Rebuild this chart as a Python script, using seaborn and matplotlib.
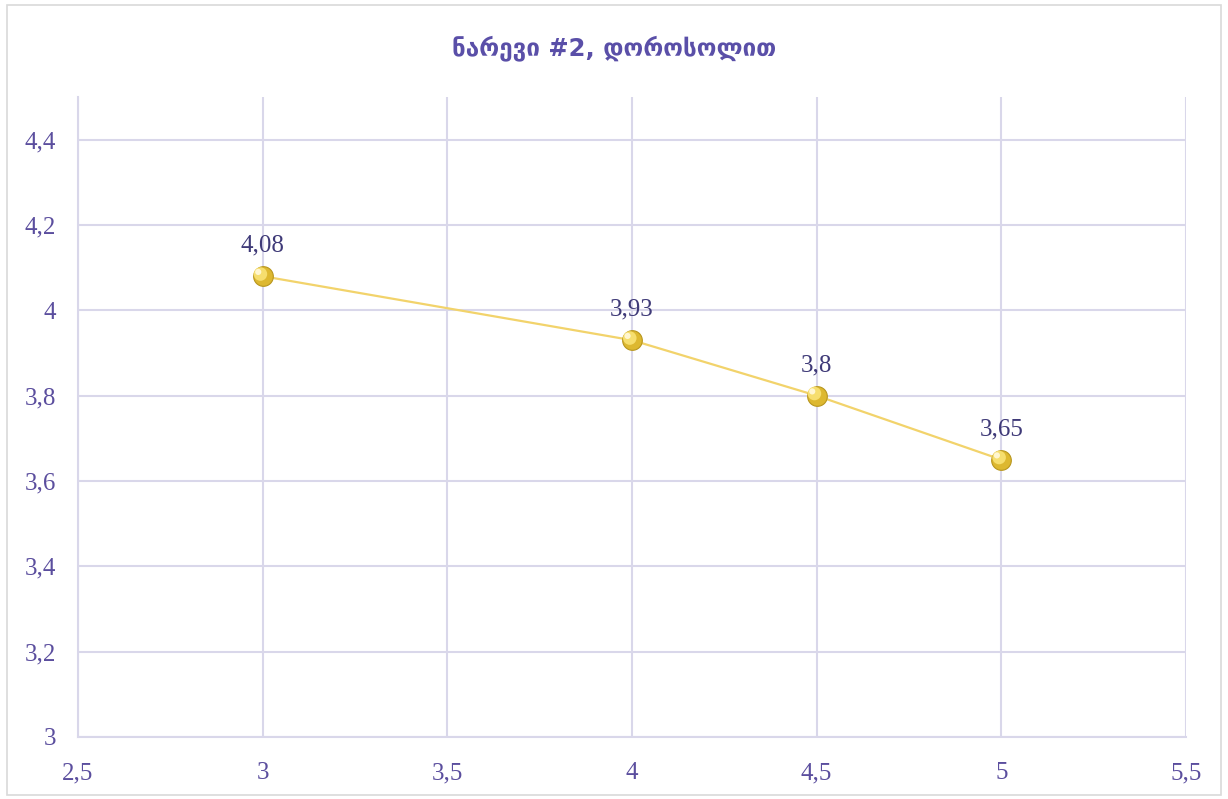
import numpy as np
import pandas as pd
import matplotlib
matplotlib.use("Agg")
import matplotlib.pyplot as plt
from matplotlib.patches import Rectangle
from matplotlib.ticker import FuncFormatter
import seaborn as sns

# data
x_vals = [3, 4, 4.5, 5]
y_vals = [4.08, 3.93, 3.80, 3.65]
point_labels = ["4,08", "3,93", "3,8", "3,65"]
title_text = "ნარევი #2, დოროსოლით"

x_ticks = [2.5, 3, 3.5, 4, 4.5, 5, 5.5]
y_ticks = [3, 3.2, 3.4, 3.6, 3.8, 4, 4.2, 4.4]

df = pd.DataFrame({"x": x_vals, "y": y_vals})

sns.set_theme(style="white")
plt.rcParams["font.family"] = ["Liberation Serif", "DejaVu Serif", "DejaVu Sans"]

tick_color = "#5B4E9E"
label_color = "#3F3A78"
grid_color = "#D9D7EA"
line_color = "#F2D36B"

fig = plt.figure(figsize=(12.28, 7.99), dpi=100)
ax = fig.add_axes([0.0635, 0.0776, 0.9023, 0.801])

# outer chart border
fig.patches.append(Rectangle((0.006, 0.005), 0.988, 0.989, transform=fig.transFigure,
                             fill=False, edgecolor="#D9D9D9", linewidth=1.2))

sns.lineplot(data=df, x="x", y="y", ax=ax, color=line_color, linewidth=1.6, zorder=3)
# marker: base + highlight to mimic the shiny gold ball
ax.scatter(df["x"], df["y"], s=200, color="#DDB830", edgecolor="#B8961E", linewidth=0.8, zorder=4)
ax.scatter(df["x"] - 0.006, df["y"] + 0.005, s=95, color="#F6DE6E", edgecolor="none", zorder=5)
ax.scatter(df["x"] - 0.012, df["y"] + 0.010, s=20, color="#FFF6D0", edgecolor="none", zorder=6)

for xv, yv, lab in zip(x_vals, y_vals, point_labels):
    ax.annotate(lab, (xv, yv), xytext=(0, 14), textcoords="offset points",
                ha="center", va="bottom", fontsize=18, color=label_color)

ax.set_xlim(2.5, 5.5)
ax.set_ylim(3, 4.5)
ax.set_xticks(x_ticks)
ax.set_yticks(y_ticks)
fmt = FuncFormatter(lambda v, p: ("%g" % v).replace(".", ","))
ax.xaxis.set_major_formatter(fmt)
ax.yaxis.set_major_formatter(fmt)
ax.grid(True, color=grid_color, linewidth=1.5)
ax.set_axisbelow(True)
for s in ["top", "right"]:
    ax.spines[s].set_visible(False)
ax.spines["left"].set_color(grid_color)
ax.spines["bottom"].set_color(grid_color)
ax.spines["left"].set_linewidth(1.5)
ax.spines["bottom"].set_linewidth(1.5)
ax.tick_params(axis="both", colors=tick_color, labelsize=18, length=0)
ax.tick_params(axis="y", pad=16)
ax.tick_params(axis="x", pad=18)
ax.set_xlabel("")
ax.set_ylabel("")

fig.text(0.5, 0.94, title_text, ha="center", va="center", fontsize=17.5, fontweight="bold",
         color="#5A4FA8", family=["DejaVu Sans"])

fig.savefig("out.png", dpi=100)
